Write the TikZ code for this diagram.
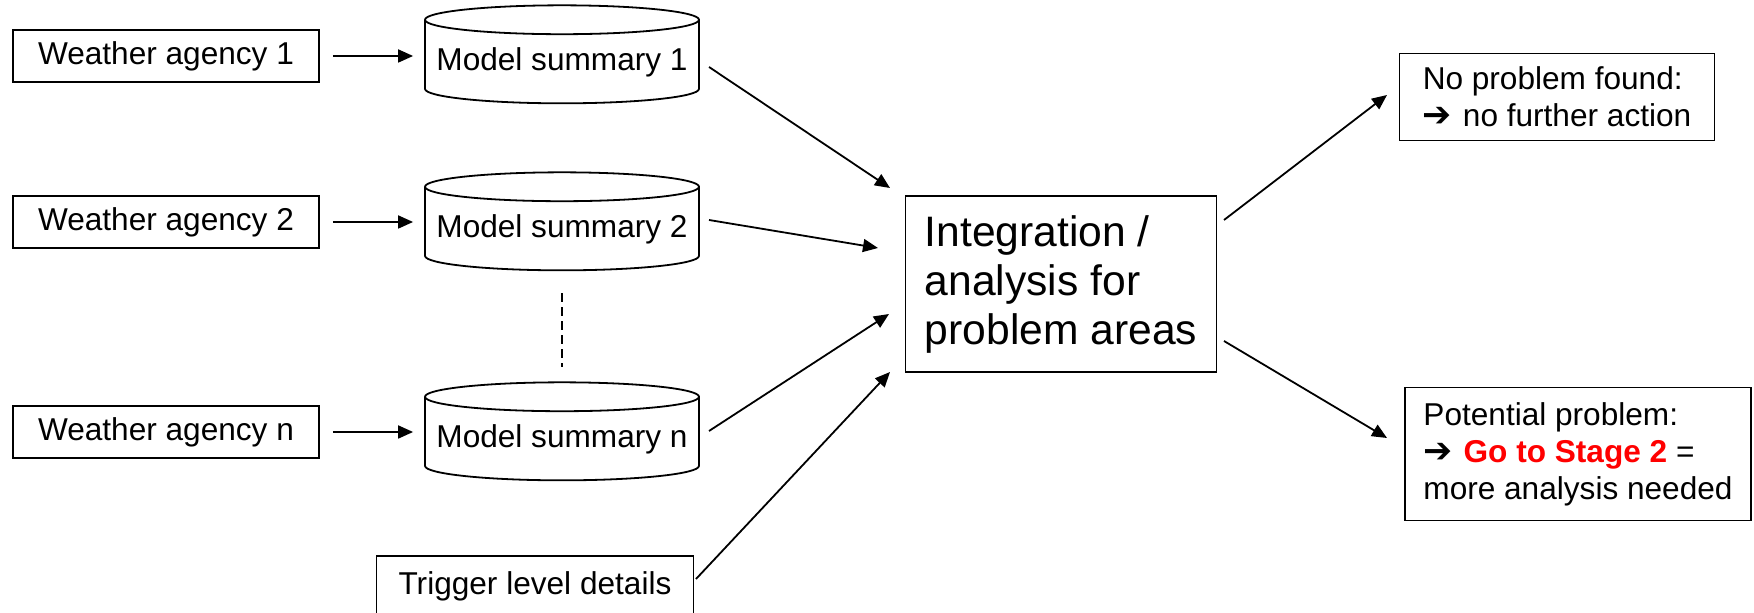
\documentclass[tikz,border=0pt]{standalone}
\usepackage{fontspec}
\setmainfont{Liberation Sans}
\newfontfamily\dingfont{DejaVu Sans}
\usetikzlibrary{positioning, calc, shapes.geometric, arrows.meta}

\newcommand{\thenarrow}{{\dingfont\bfseries\scalebox{1.1}{➔}}\hspace{0.35em}}

\begin{document}
\begin{tikzpicture}[x=0.5pt, y=-0.5pt, line width=0.9pt, >={Triangle[length=7.5pt, width=6.5pt]},
    agency/.style={draw, minimum width=153pt, minimum height=26pt, font=\fontsize{15.8}{18}\selectfont},
    summary/.style={draw, cylinder, shape border rotate=90, aspect=0.115, minimum width=137pt, minimum height=49pt, inner sep=0pt, font=\fontsize{15.8}{18}\selectfont},
    result/.style={draw, align=left, font=\fontsize{15.8}{18.5}\selectfont}]
			\clip (0,0) rectangle (1754,613);
			\node (wa1) [agency] at (166,56) {Weather agency 1};
			\node (wa2) [agency] at (166,222) {Weather agency 2};
			\node (wan) [agency] at (166,432) {Weather agency n};
			\node (ms1) [summary] at (562,62) {Model summary 1};
			\node (ms2) [summary] at (562,229) {Model summary 2};
			\node (msn) [summary] at (562,439) {Model summary n};
			\node (trig) [agency, minimum width=158.5pt, minimum height=30pt] at (535,586) {Trigger level details};
			\node (int) [draw, minimum width=155.5pt, minimum height=88pt, align=left, font=\fontsize{21.3}{24.5}\selectfont] at (1061,284) {Integration /\\analysis for\\problem areas};
			\node (np) [result, minimum width=157.5pt, minimum height=43.5pt] at (1557,97) {No problem found:\\\thenarrow no further action};
			\node (pot) [result, minimum width=173pt, minimum height=66.5pt] at (1578,454) {Potential problem:\\\thenarrow\textcolor{red}{\textbf{Go to Stage 2}} =\\more analysis needed};

			\draw [->, shorten <=6.5pt, shorten >=5.5pt] (wa1.east) -- (wa1.east -| ms1.west);
			\draw [->, shorten <=6.5pt, shorten >=5.5pt] (wa2.east) -- (wa2.east -| ms2.west);
			\draw [->, shorten <=6.5pt, shorten >=5.5pt] (wan.east) -- (wan.east -| msn.west);
			\draw [dash pattern=on 4.5pt off 2.5pt, line width=0.7pt, shorten <=11pt, shorten >=7pt] (ms2.south) -- (msn.north);

			\draw [->] ($(ms1)+(147,5)$) -- ($(int)+(-171,-96)$);
			\draw [->] ($(ms2)+(147,-9)$) -- ($(int)+(-183,-36)$);
			\draw [->] ($(msn)+(147,-8)$) -- ($(int)+(-172,30)$);
			\draw [->] ($(trig)+(161,-7)$) -- ($(int)+(-171,88)$);

			\draw [->] ($(int)+(163,-64)$) -- ($(np)+(-170,-2)$);
			\draw [->] ($(int)+(163,57)$) -- ($(pot)+(-191,-16)$);
		\end{tikzpicture}
\end{document}
